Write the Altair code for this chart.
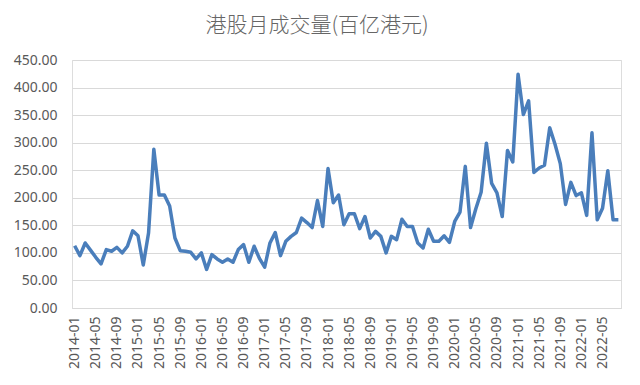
import altair as alt
import pandas as pd

# Month categories 2014-01 .. 2022-08
months = [f"{y}-{m:02d}" for y in range(2014, 2023) for m in range(1, 13)][:104]

turnover = [
    113, 95, 118, 105, 92, 80, 106, 103, 110, 100, 112, 140,
    131, 78, 136, 288, 205, 205, 185, 127, 104, 103, 101, 89,
    100, 70, 97, 89, 83, 89, 83, 106, 115, 83, 112, 90,
    74, 118, 137, 95, 121, 130, 137, 163, 155, 146, 195, 148,
    253, 191, 205, 151, 171, 171, 144, 166, 127, 139, 130, 100,
    130, 124, 161, 148, 148, 118, 109, 143, 121, 121, 131, 119,
    157, 174, 257, 146, 180, 210, 299, 226, 209, 166, 286, 265,
    424, 351, 376, 246, 254, 259, 327, 297, 262, 188, 228, 204,
    209, 168, 318, 160, 181, 249, 160, 160,
]

tick_months = months[::4]
y_ticks = [0, 50, 100, 150, 200, 250, 300, 350, 400, 450]

df = pd.DataFrame({"month": months, "value": turnover})

label_color = "#595959"
grid_color = "#d9d9d9"

chart = (
    alt.Chart(df)
    .mark_line(color="#4a7ebb", strokeWidth=3.5, strokeJoin="round")
    .encode(
        x=alt.X(
            "month:O",
            sort=months,
            scale=alt.Scale(type="point", padding=0.5),
            axis=alt.Axis(
                values=tick_months,
                title=None,
                labelAngle=-90,
                labelAlign="right",
                labelBaseline="middle",
                labelFont="Noto Sans",
                labelFontSize=14,
                labelColor=label_color,
                labelPadding=8,
                ticks=False,
                domainColor=grid_color,
                domainWidth=1,
                grid=False,
                labelOverlap=False,
            ),
        ),
        y=alt.Y(
            "value:Q",
            scale=alt.Scale(domain=[0, 450], nice=False),
            axis=alt.Axis(
                values=y_ticks,
                format=".2f",
                title=None,
                labelFont="Noto Sans",
                labelFontSize=14,
                labelColor=label_color,
                labelPadding=15,
                ticks=False,
                domain=False,
                gridColor=grid_color,
                gridWidth=1,
            ),
        ),
    )
    .properties(
        width=549,
        height=248,
        autosize=alt.AutoSizeParams(type="none"),
        padding={"left": 64, "top": 52, "right": 11, "bottom": 69},
        title=alt.TitleParams(
            "港股月成交量(百亿港元)",
            font="Noto Sans CJK SC",
            fontSize=21,
            fontWeight=300,
            color="#666666",
            anchor="middle",
            frame="bounds",
            offset=17,
        ),
    )
    .configure_view(stroke=None)
    .configure(background="white")
)

chart.save("out.html", embed_options={"renderer": "svg", "actions": False})
